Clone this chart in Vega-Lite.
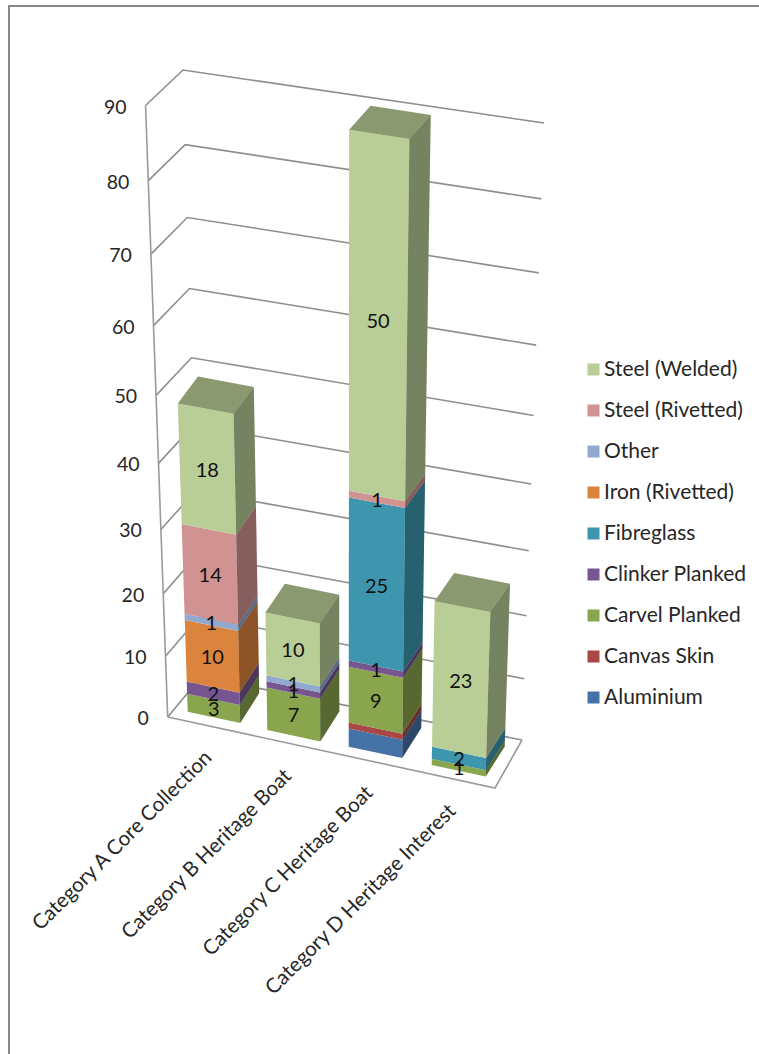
{
  "$schema": "https://vega.github.io/schema/vega-lite/v6.json",
  "width": 759,
  "height": 1054,
  "padding": 0,
  "autosize": {"type": "none"},
  "background": "white",
  "view": {"stroke": null},
  "config": {"font": "Lato"},
  "datasets": {
    "boats": [
      {"category": "Category A Core Collection", "material": "Carvel Planked", "value": 3},
      {"category": "Category A Core Collection", "material": "Clinker Planked", "value": 2},
      {"category": "Category A Core Collection", "material": "Iron (Rivetted)", "value": 10},
      {"category": "Category A Core Collection", "material": "Other", "value": 1},
      {"category": "Category A Core Collection", "material": "Steel (Rivetted)", "value": 14},
      {"category": "Category A Core Collection", "material": "Steel (Welded)", "value": 18},
      {"category": "Category B Heritage Boat", "material": "Carvel Planked", "value": 7},
      {"category": "Category B Heritage Boat", "material": "Clinker Planked", "value": 1},
      {"category": "Category B Heritage Boat", "material": "Other", "value": 1},
      {"category": "Category B Heritage Boat", "material": "Steel (Welded)", "value": 10},
      {"category": "Category C Heritage Boat", "material": "Aluminium", "value": 3},
      {"category": "Category C Heritage Boat", "material": "Canvas Skin", "value": 1},
      {"category": "Category C Heritage Boat", "material": "Carvel Planked", "value": 9},
      {"category": "Category C Heritage Boat", "material": "Clinker Planked", "value": 1},
      {"category": "Category C Heritage Boat", "material": "Fibreglass", "value": 25},
      {"category": "Category C Heritage Boat", "material": "Steel (Rivetted)", "value": 1},
      {"category": "Category C Heritage Boat", "material": "Steel (Welded)", "value": 50},
      {"category": "Category D Heritage Interest", "material": "Carvel Planked", "value": 1},
      {"category": "Category D Heritage Interest", "material": "Fibreglass", "value": 2},
      {"category": "Category D Heritage Interest", "material": "Steel (Welded)", "value": 23}
    ],
    "ticks": [
      {"level": 0}, {"level": 10}, {"level": 20}, {"level": 30}, {"level": 40},
      {"level": 50}, {"level": 60}, {"level": 70}, {"level": 80}, {"level": 90}
    ],
    "categories": [
      {"category": "Category A Core Collection"},
      {"category": "Category B Heritage Boat"},
      {"category": "Category C Heritage Boat"},
      {"category": "Category D Heritage Interest"}
    ]
  },
  "data": {"name": "boats"},
  "transform": [
    {"stack": "value", "groupby": ["category"], "as": ["v0", "v1"]},
    {"joinaggregate": [{"op": "max", "field": "v1", "as": "total"}], "groupby": ["category"]},
    {"calculate": "indexof(['Category A Core Collection','Category B Heritage Boat','Category C Heritage Boat','Category D Heritage Interest'], datum.category)", "as": "i"},
    {"calculate": "[{face:'front',n:0,a:0,b:0,h:0},{face:'front',n:1,a:1,b:0,h:0},{face:'front',n:2,a:1,b:0,h:1},{face:'front',n:3,a:0,b:0,h:1},{face:'side',n:0,a:1,b:0,h:0},{face:'side',n:1,a:1,b:1,h:0},{face:'side',n:2,a:1,b:1,h:1},{face:'side',n:3,a:1,b:0,h:1},{face:'top',n:0,a:0,b:0,h:1},{face:'top',n:1,a:1,b:0,h:1},{face:'top',n:2,a:1,b:1,h:1},{face:'top',n:3,a:0,b:1,h:1},{face:'label',n:0,a:0.5,b:0,h:0.5}]", "as": "verts"},
    {"flatten": ["verts"], "as": ["vert"]},
    {"filter": "datum.vert.face != 'top' || datum.v1 == datum.total"},
    {"calculate": "datum.vert.face", "as": "face"},
    {"calculate": "datum.vert.n", "as": "n"},
    {"calculate": "datum.category + '|' + datum.material + '|' + datum.face", "as": "poly"},
    {"calculate": "(datum.v0 + datum.vert.h * (datum.v1 - datum.v0)) / 90", "as": "s"},
    {"calculate": "0.88 * datum.s + 0.12 * datum.s * datum.s", "as": "t"},
    {"calculate": "[187.7,267.3,348.7,431.7][datum.i] + datum.vert.a * (52.5 + 0.5 * datum.i) + datum.vert.b * 19", "as": "gx"},
    {"calculate": "[711.7,730,746.7,765][datum.i] + datum.vert.a * (11.4 - 2.2 * datum.t) - datum.vert.b * 30", "as": "gy"},
    {"calculate": "datum.gx + (datum.gx - 345) * 0.125 * datum.t", "as": "px"},
    {"calculate": "datum.gy - datum.t * (612 + 2.5 * datum.i - 6 * datum.vert.b)", "as": "py"}
  ],
  "encoding": {
    "x": {"field": "px", "type": "quantitative", "axis": null, "scale": {"domain": [0, 759], "nice": false, "zero": false}},
    "y": {"field": "py", "type": "quantitative", "axis": null, "scale": {"domain": [1054, 0], "nice": false, "zero": false}}
  },
  "layer": [
    {
      "data": {"values": [{"outline": "chart frame"}]},
      "transform": [
        {"calculate": "[[0,9,1054],[1,9,6],[2,759,6]]", "as": "corners"},
        {"flatten": ["corners"], "as": ["c"]},
        {"calculate": "datum.c[0]", "as": "n"},
        {"calculate": "datum.c[1]", "as": "px"},
        {"calculate": "datum.c[2]", "as": "py"}
      ],
      "mark": {"type": "line", "stroke": "#868686", "strokeWidth": 2},
      "encoding": {"order": {"field": "n"}}
    },
    {
      "data": {"name": "ticks"},
      "transform": [
        {"calculate": "datum.level / 90", "as": "s"},
        {"calculate": "0.88 * datum.s + 0.12 * datum.s * datum.s", "as": "t"},
        {"calculate": "[[0,167.7,717,611.5],[1,201,677,607],[2,522,740,617]]", "as": "corners"},
        {"flatten": ["corners"], "as": ["c"]},
        {"calculate": "datum.c[0]", "as": "n"},
        {"calculate": "datum.c[1] + (datum.c[1] - 345) * 0.125 * datum.t", "as": "px"},
        {"calculate": "datum.c[2] - datum.c[3] * datum.t", "as": "py"}
      ],
      "mark": {"type": "line", "stroke": "#8e8e8e", "strokeWidth": 1.6},
      "encoding": {
        "detail": {"field": "level"},
        "order": {"field": "n"}
      }
    },
    {
      "data": {"name": "ticks"},
      "transform": [
        {"calculate": "datum.level / 90", "as": "s"},
        {"calculate": "0.88 * datum.s + 0.12 * datum.s * datum.s", "as": "t"},
        {"calculate": "167.7 + (167.7 - 345) * 0.125 * datum.t", "as": "px"},
        {"calculate": "717 - 611.5 * datum.t", "as": "py"}
      ],
      "mark": {"type": "line", "stroke": "#9a9a9a", "strokeWidth": 1.6},
      "encoding": {"order": {"field": "level"}}
    },
    {
      "data": {"name": "ticks"},
      "transform": [
        {"filter": "datum.level == 0"},
        {"calculate": "[[0,167.7,717],[1,495,788],[2,522,740]]", "as": "corners"},
        {"flatten": ["corners"], "as": ["c"]},
        {"calculate": "datum.c[0]", "as": "n"},
        {"calculate": "datum.c[1]", "as": "px"},
        {"calculate": "datum.c[2]", "as": "py"}
      ],
      "mark": {"type": "line", "stroke": "#9a9a9a", "strokeWidth": 1.6},
      "encoding": {"order": {"field": "n"}}
    },
    {
      "data": {"name": "ticks"},
      "transform": [
        {"calculate": "datum.level / 90", "as": "s"},
        {"calculate": "0.88 * datum.s + 0.12 * datum.s * datum.s", "as": "t"},
        {"calculate": "167.7 + (167.7 - 345) * 0.125 * datum.t - 19", "as": "px"},
        {"calculate": "717 - 611.5 * datum.t + 2", "as": "py"}
      ],
      "mark": {"type": "text", "align": "right", "baseline": "middle", "fontSize": 19.5, "color": "#262626"},
      "encoding": {"text": {"field": "level", "type": "nominal"}}
    },
    {
      "transform": [{"filter": "datum.face != 'label'"}],
      "mark": {"type": "line", "interpolate": "linear-closed", "strokeWidth": 0},
      "encoding": {
        "detail": {"field": "poly"},
        "order": {"field": "n"},
        "fill": {
          "field": "material",
          "type": "nominal",
          "scale": {
            "domain": ["Steel (Welded)", "Steel (Rivetted)", "Other", "Iron (Rivetted)", "Fibreglass", "Clinker Planked", "Carvel Planked", "Canvas Skin", "Aluminium"],
            "range": ["#B9CD96", "#D19392", "#92A9CF", "#DB843D", "#3D96AE", "#775591", "#89A54E", "#AA4643", "#4572A7"]
          },
          "legend": {
            "title": null,
            "orient": "none",
            "legendX": 583,
            "legendY": 359,
            "symbolType": "square",
            "symbolSize": 144,
            "symbolStrokeWidth": 0,
            "symbolOpacity": 1,
            "labelFontSize": 21,
            "labelColor": "#262626",
            "labelFont": "Lato",
            "labelOffset": 0,
            "labelLimit": 200,
            "rowPadding": 19
          }
        }
      }
    },
    {
      "transform": [{"filter": "datum.face == 'side' || datum.face == 'top'"}],
      "mark": {"type": "line", "interpolate": "linear-closed", "strokeWidth": 0, "fill": "black"},
      "encoding": {
        "detail": {"field": "poly"},
        "order": {"field": "n"},
        "fillOpacity": {"field": "face", "type": "nominal", "scale": {"domain": ["side", "top"], "range": [0.36, 0.25]}, "legend": null}
      }
    },
    {
      "transform": [{"filter": "datum.face == 'label' && datum.material != 'Aluminium' && datum.material != 'Canvas Skin'"}],
      "mark": {"type": "text", "align": "center", "baseline": "middle", "fontSize": 20, "color": "#111111", "dy": 1.5},
      "encoding": {"text": {"field": "value", "type": "nominal"}}
    },
    {
      "data": {"name": "categories"},
      "transform": [
        {"calculate": "indexof(['Category A Core Collection','Category B Heritage Boat','Category C Heritage Boat','Category D Heritage Interest'], datum.category)", "as": "i"},
        {"calculate": "[187.7,267.3,348.7,431.7][datum.i] + 21", "as": "px"},
        {"calculate": "[711.7,730,746.7,765][datum.i] + 43", "as": "py"}
      ],
      "mark": {"type": "text", "align": "right", "baseline": "middle", "angle": 315, "fontSize": 20.5, "color": "#262626"},
      "encoding": {"text": {"field": "category", "type": "nominal"}}
    }
  ]
}
